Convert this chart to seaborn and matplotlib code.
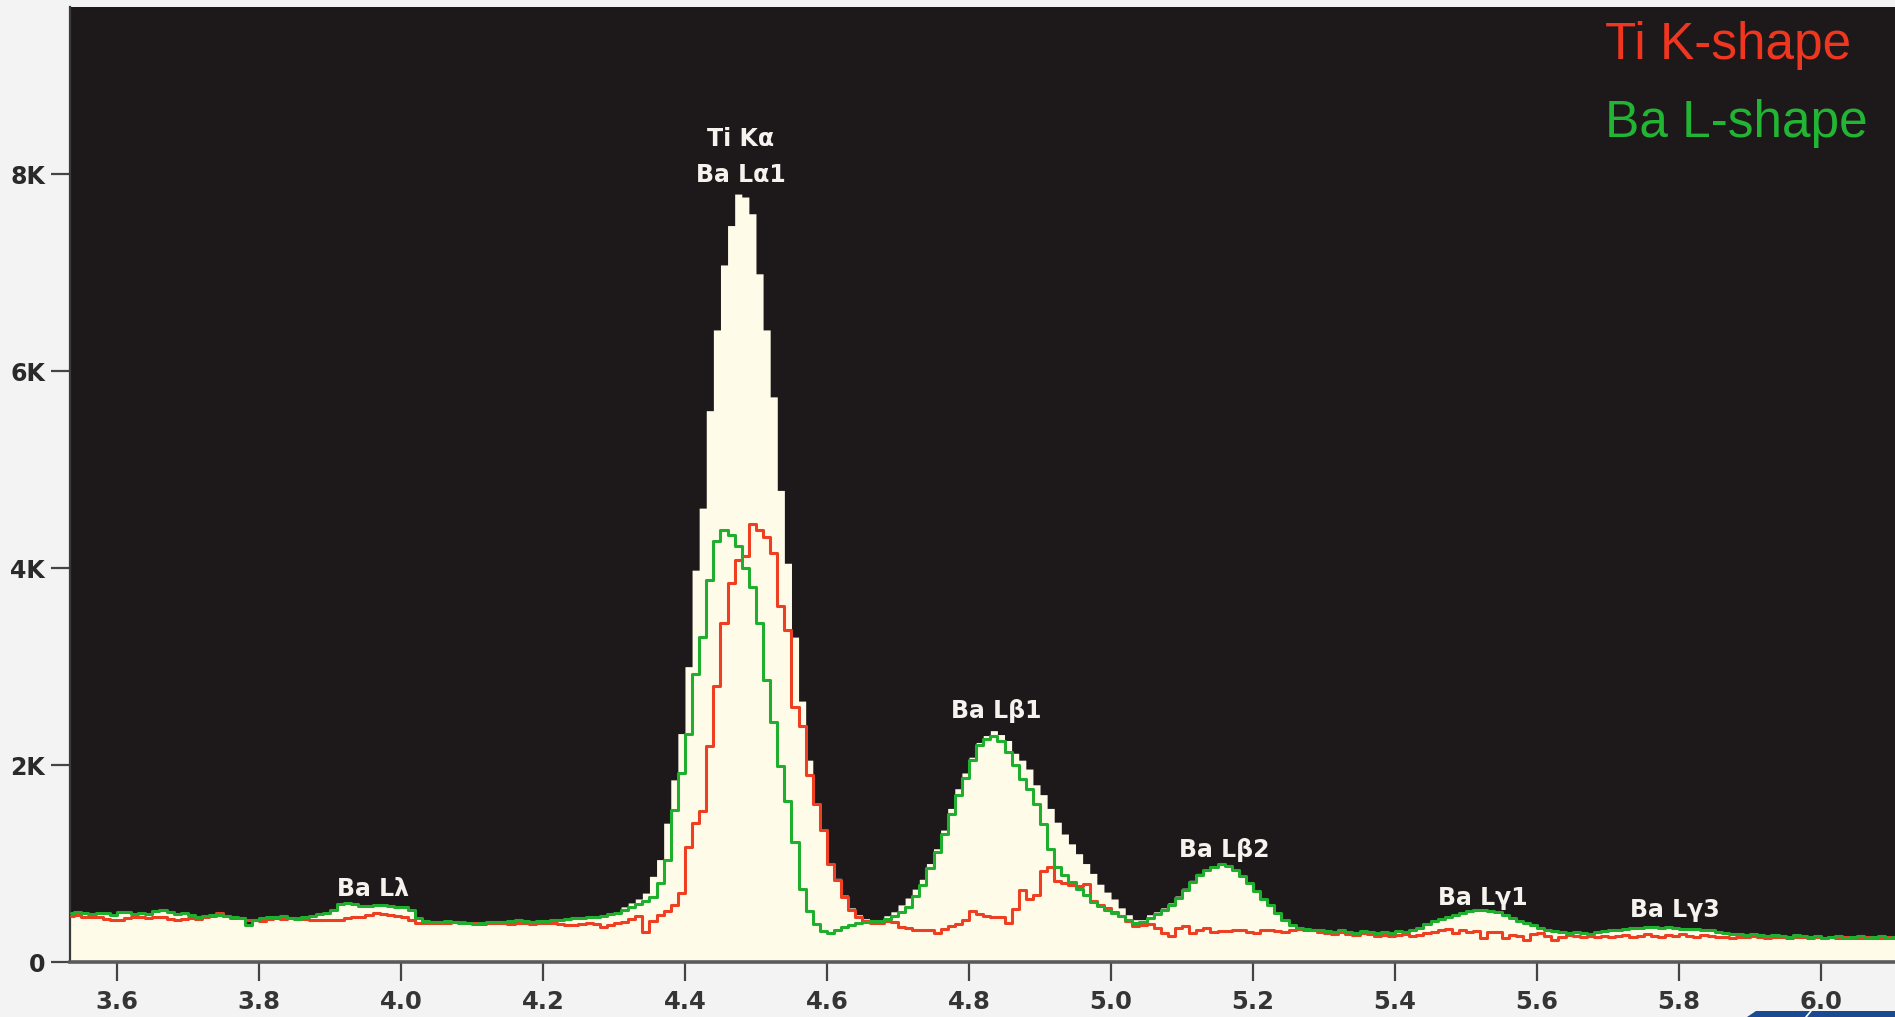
import numpy as np
import pandas as pd
import matplotlib
matplotlib.use("Agg")
import matplotlib.pyplot as plt
from matplotlib.patches import Polygon
from matplotlib.lines import Line2D
import seaborn as sns

# Spectrum channels: 10 eV wide, first channel starts at 3.53 keV
channel_start_kev = 3.53
channel_width_kev = 0.01

# Measured spectrum (counts per channel), 3.53 .. 6.10 keV
total_counts = [
    500, 510, 495, 488, 502, 494, 480,                                  # 3.53-3.59
    505, 512, 490, 496, 485, 520, 528, 505, 492, 498,                   # 3.60
    476, 462, 470, 480, 476, 465, 455, 445, 378, 428,                   # 3.70
    450, 462, 458, 464, 447, 440, 452, 470, 488, 500,                   # 3.80
    525, 590, 595, 585, 570, 565, 578, 582, 570, 562,                   # 3.90
    555, 530, 450, 420, 410, 405, 412, 408, 400, 398,                   # 4.00
    390, 396, 405, 410, 402, 418, 426, 415, 408, 412,                   # 4.10
    420, 426, 430, 438, 443, 450, 455, 460, 470, 490,                   # 4.20
    510, 560, 600, 640, 700, 870, 1040, 1410, 1850, 2320,               # 4.30
    3000, 3980, 4610, 5600, 6420, 7080, 7480, 7800, 7770, 7600,         # 4.40
    6990, 6420, 5740, 4790, 4050, 3300, 2650, 2050, 1620, 1350,         # 4.50
    1010, 850, 680, 550, 480, 440, 425, 430, 470, 510,                  # 4.60
    580, 650, 740, 840, 1000, 1150, 1340, 1560, 1760, 1920,             # 4.70
    2080, 2230, 2300, 2350, 2310, 2250, 2120, 2050, 1960, 1800,         # 4.80
    1700, 1560, 1420, 1300, 1200, 1100, 1000, 900, 790, 710,            # 4.90
    640, 550, 480, 430, 430, 480, 510, 550, 600, 670,                   # 5.00
    750, 830, 900, 940, 980, 1010, 990, 940, 880, 810,                  # 5.10
    730, 650, 590, 510, 440, 390, 360, 345, 335, 325,                   # 5.20
    310, 300, 320, 300, 290, 310, 300, 290, 300, 290,                   # 5.30
    310, 300, 320, 350, 390, 420, 440, 460, 480, 500,                   # 5.40
    520, 530, 530, 520, 510, 480, 450, 420, 400, 380,                   # 5.50
    350, 330, 310, 300, 290, 300, 290, 280, 300, 310,                   # 5.60
    320, 330, 340, 350, 350, 360, 360, 350, 360, 350,                   # 5.70
    340, 340, 340, 330, 320, 300, 290, 280, 280, 270,                   # 5.80
    280, 270, 260, 270, 260, 250, 270, 260, 250, 260,                   # 5.90
    240, 250, 260, 240, 250, 260, 240, 250, 260, 240, 250,              # 6.00-6.10
]

# Fitted Ti K-line shape
ti_k_shape = [
    470, 478, 462, 455, 460, 440, 430,
    426, 445, 452, 460, 448, 455, 462, 440, 426, 432,
    443, 440, 455, 470, 494, 470, 450, 443, 430, 426,
    420, 432, 443, 440, 445, 443, 432, 426, 430, 428,
    426, 430, 443, 452, 460, 480, 494, 488, 477, 470,
    460, 430, 395, 393, 400, 393, 398, 409, 402, 395,
    393, 388, 395, 400, 393, 390, 396, 393, 388, 393,
    398, 392, 385, 380, 375, 382, 393, 388, 360, 380,
    393, 410, 440, 470, 300, 420, 480, 520, 580, 700,
    1170, 1410, 1530, 2190, 2800, 3440, 3850, 4080, 4120, 4450,
    4390, 4320, 4150, 3620, 3370, 2590, 2400, 1900, 1600, 1340,
    1000, 830, 660, 530, 460, 420, 395, 400, 420, 405,
    360, 350, 330, 325, 320, 295, 340, 370, 390, 430,
    520, 490, 470, 460, 460, 400, 540, 730, 640, 680,
    920, 960, 820, 800, 785, 770, 790, 620, 580, 550,
    510, 470, 420, 370, 380, 390, 350, 290, 260, 350,
    370, 290, 320, 350, 300, 310, 310, 330, 320, 300,
    290, 320, 330, 310, 300, 320, 340, 330, 320, 300,
    290, 280, 300, 285, 270, 290, 280, 265, 275, 260,
    270, 280, 260, 275, 290, 300, 330, 340, 290, 325,
    300, 310, 240, 305, 300, 245, 270, 260, 225, 280,
    290, 260, 225, 250, 270, 260, 250, 265, 255, 260,
    250, 260, 270, 255, 265, 280, 260, 250, 275, 265,
    280, 260, 250, 270, 260, 255, 250, 245, 255, 250,
    260, 250, 240, 255, 250, 245, 255, 250, 240, 250,
    245, 250, 240, 250, 245, 240, 250, 245, 240, 250, 245,
]

# Fitted Ba L-line shape
ba_l_shape = [
    500, 510, 495, 488, 502, 494, 480,
    505, 512, 490, 496, 485, 520, 528, 505, 492, 498,
    476, 462, 470, 480, 476, 465, 455, 445, 378, 428,
    450, 462, 458, 464, 447, 440, 452, 470, 488, 500,
    525, 590, 595, 585, 570, 565, 578, 582, 570, 562,
    555, 530, 450, 420, 410, 405, 412, 408, 400, 398,
    390, 396, 405, 410, 402, 418, 426, 415, 408, 412,
    420, 426, 430, 438, 443, 450, 455, 460, 470, 490,
    500, 530, 560, 590, 620, 660, 800, 1040, 1540, 1920,
    2320, 2930, 3300, 3880, 4280, 4390, 4340, 4230, 4000, 3810,
    3440, 2860, 2440, 1990, 1640, 1220, 740, 520, 390, 310,
    290, 330, 360, 380, 400, 410, 415, 420, 440, 470,
    510, 560, 670, 780, 950, 1120, 1300, 1500, 1700, 1870,
    2050, 2200, 2270, 2300, 2240, 2130, 2000, 1860, 1760, 1600,
    1400, 1150, 960, 880, 810, 740, 680, 610, 570, 530,
    500, 470, 430, 400, 410, 450, 490, 530, 580, 650,
    730, 810, 880, 930, 970, 1000, 980, 930, 870, 800,
    720, 640, 580, 500, 430, 380, 350, 340, 330, 320,
    310, 300, 320, 300, 290, 310, 300, 290, 300, 290,
    310, 300, 320, 350, 390, 420, 440, 460, 480, 500,
    520, 530, 530, 520, 510, 480, 450, 420, 400, 380,
    350, 330, 310, 300, 290, 300, 290, 280, 300, 310,
    320, 330, 340, 350, 350, 360, 360, 350, 360, 350,
    340, 340, 340, 330, 320, 300, 290, 280, 280, 270,
    280, 270, 260, 270, 260, 250, 270, 260, 250, 260,
    240, 250, 260, 240, 250, 260, 240, 250, 260, 240, 250,
]

x_ticks = [3.6, 3.8, 4.0, 4.2, 4.4, 4.6, 4.8, 5.0, 5.2, 5.4, 5.6, 5.8, 6.0]
x_tick_labels = ["3.6", "3.8", "4.0", "4.2", "4.4", "4.6", "4.8",
                 "5.0", "5.2", "5.4", "5.6", "5.8", "6.0"]
y_ticks = [0, 2000, 4000, 6000, 8000]
y_tick_labels = ["0", "2K", "4K", "6K", "8K"]

peak_names = ["Ti K\u03b1", "Ba L\u03b11", "Ba L\u03b21", "Ba L\u03b22",
              "Ba L\u03bb", "Ba L\u03b31", "Ba L\u03b33"]
legend_names = ["Ti K-shape", "Ba L-shape"]

# ---------------------------------------------------------------- layout
BG_PANEL = "#1d191a"
FILL = "#fffbe9"
RED = "#ee3f22"
GREEN = "#1fae2e"

sns.set_style("ticks")
plt.rcParams["font.family"] = ["DejaVu Sans"]

n_ch = len(total_counts)
left_edges = channel_start_kev + channel_width_kev * np.arange(n_ch)
centers = left_edges + channel_width_kev / 2
edges = np.append(left_edges, left_edges[-1] + channel_width_kev).tolist()

spec = pd.DataFrame({
    "energy": centers,
    "total": total_counts,
    "ti": ti_k_shape,
    "ba": ba_l_shape,
})

W, H = 1895, 1017
fig = plt.figure(figsize=(W / 100, H / 100), dpi=100, facecolor="#f3f3f3")
ax = fig.add_axes([70 / W, (H - 962) / H, 1 - 70 / W, (962 - 7) / H])
ax.set_facecolor(BG_PANEL)

# measured spectrum as a filled step histogram
sns.histplot(data=spec, x="energy", weights="total", bins=edges,
             element="step", fill=True, color=FILL, alpha=1, linewidth=0,
             ax=ax, zorder=2)

# fitted line shapes
sns.lineplot(data=spec, x="energy", y="ti", estimator=None, color=RED,
             linewidth=2.2, drawstyle="steps-mid", ax=ax, zorder=3)
sns.lineplot(data=spec, x="energy", y="ba", estimator=None, color=GREEN,
             linewidth=2.2, drawstyle="steps-mid", ax=ax, zorder=4)

ax.set_xlim(3.534, 6.104)
ax.set_ylim(0, 9700)
ax.set_xlabel("")
ax.set_ylabel("")

ax.set_xticks(x_ticks)
ax.set_xticklabels(x_tick_labels)
ax.set_yticks(y_ticks)
ax.set_yticklabels(y_tick_labels)

for s in ("top", "right"):
    ax.spines[s].set_visible(False)
ax.spines["left"].set_color("#3a3a3a")
ax.spines["left"].set_linewidth(1.6)
ax.spines["bottom"].set_color("#5a5a5a")
ax.spines["bottom"].set_linewidth(2.6)
ax.spines["bottom"].set_zorder(6)

ax.tick_params(axis="x", direction="out", length=14, width=1.6,
               color="#444444", pad=6, labelsize=17.5, labelcolor="#353535")
ax.tick_params(axis="y", direction="out", length=14, width=1.6,
               color="#444444", pad=4, labelsize=17, labelcolor="#2a2a2a")
for lab in ax.get_xticklabels() + ax.get_yticklabels():
    lab.set_fontweight("bold")

# peak identifications
label_spots = [(4.479, 8355), (4.479, 7990), (4.838, 2548), (5.159, 1137),
               (3.961, 741), (5.523, 650), (5.794, 528)]
for name, (ex, ey) in zip(peak_names, label_spots):
    ax.text(ex, ey, name, ha="center", va="center", color="#f4f3ee",
            fontsize=17, fontweight="bold", zorder=7)

# key for the two fitted shapes
key_font = ["Liberation Sans", "DejaVu Sans"]
fig.text(1605 / W, 1 - 59 / H, legend_names[0], color="#f0361f",
         fontsize=37, family=key_font, va="baseline", ha="left")
fig.text(1605 / W, 1 - 137 / H, legend_names[1], color="#22b534",
         fontsize=37, family=key_font, va="baseline", ha="left")

# corner banner
fig.patches.append(Polygon([(1747 / W, 0), (1756 / W, 6 / H), (1, 6 / H), (1, 0)],
                           closed=True, transform=fig.transFigure,
                           facecolor="#1c4a92", edgecolor="none", zorder=10))
fig.lines.append(Line2D([1806 / W, 1811 / W], [0, 6 / H], transform=fig.transFigure,
                        color="white", linewidth=1.2, zorder=11))

fig.savefig("out.png", dpi=100, facecolor=fig.get_facecolor())
